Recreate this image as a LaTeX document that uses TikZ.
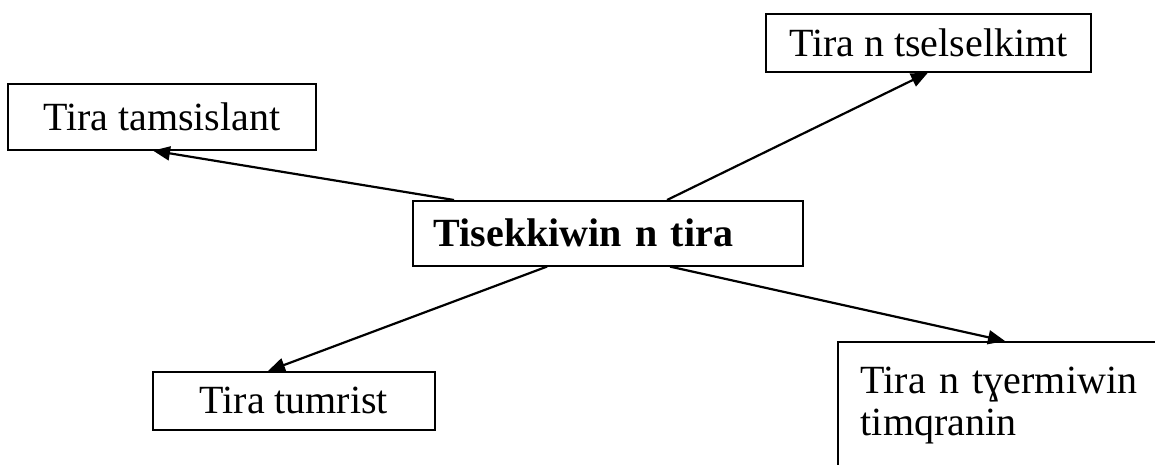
\documentclass[tikz,border=0pt]{standalone}
\usepackage{fontspec}
\setmainfont{Liberation Serif}
\usetikzlibrary{arrows.meta,calc}
\tikzset{
  box/.style={draw, line width=1.6pt, anchor=north west, inner sep=0pt,
    font=\fontsize{40}{42}\selectfont},
  arr/.style={line width=2.2pt, -{Triangle[length=17pt,width=14pt]}}
}
\begin{document}
\begin{tikzpicture}[x=1pt,y=-1pt]
\useasboundingbox (0,0) rectangle (1155,465);
\node[box, minimum width=308pt, minimum height=66pt] (a) at (7,83) {Tira tamsislant};
\node[box, minimum width=325pt, minimum height=58pt] (b) at (765,13) {Tira n tselselkimt};
\node[box, minimum width=390pt, minimum height=65pt, text width=348pt, align=left, inner xsep=21pt] (c) at (412,200) {\bfseries Tisekkiwin n tira};
\node[box, minimum width=282pt, minimum height=58pt] (d) at (152,371) {Tira tumrist};
\node[box, text width=320pt, align=left, inner xsep=23pt, inner ysep=25pt, text depth=150pt] (e) at (837,341) {Tira n tɣermiwin\\timqranin};
\draw[arr] ($(c.north west)+(42,0)$) -- ($(a.south west)+(146,0)$);
\draw[arr] ($(c.north west)+(255,0)$) -- ($(b.south west)+(163,0)$);
\draw[arr] ($(c.south west)+(135,0)$) -- ($(d.north west)+(116,0)$);
\draw[arr] ($(c.south west)+(258,0)$) -- ($(e.north west)+(168,0)$);
\end{tikzpicture}
\end{document}
